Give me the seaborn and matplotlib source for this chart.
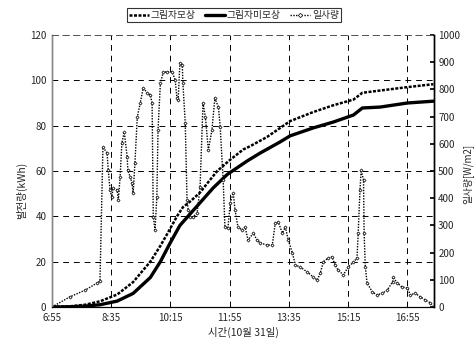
import matplotlib
matplotlib.use("Agg")
import matplotlib.pyplot as plt
import seaborn as sns
import pandas as pd
from matplotlib.lines import Line2D

# ---- data (time in minutes since midnight) ----
irr_time = [415, 445, 471, 491, 496, 501, 508, 510, 513, 516, 518, 525, 527, 530, 533, 537,
            542, 543, 547, 550, 552, 555, 559, 564, 569, 576, 581, 584, 586, 589, 592, 594,
            598, 603, 609, 618, 623, 626, 628, 631, 635, 636, 640, 643, 645, 648, 653, 660,
            665, 670, 674, 679, 685, 690, 696, 699, 704, 707, 712, 716, 721, 724, 729, 736,
            741, 746, 755, 761, 767, 778, 787, 792, 797, 804, 809, 814, 821, 826, 834, 846,
            856, 863, 868, 873, 881, 888, 893, 898, 907, 915, 924, 930, 932, 935, 937, 941,
            942, 944, 947, 956, 964, 973, 981, 990, 991, 998, 1006, 1015, 1020, 1028, 1037,
            1045, 1054, 1059]
irr_value = [0, 37, 62, 88, 95, 588, 566, 503, 430, 404, 437, 430, 393, 478, 603, 643,
             551, 503, 478, 456, 419, 529, 698, 750, 805, 787, 779, 750, 331, 283, 404, 650,
             823, 864, 864, 864, 834, 768, 761, 897, 890, 823, 676, 393, 357, 331, 331, 345,
             441, 750, 698, 577, 650, 768, 735, 662, 467, 294, 290, 382, 419, 357, 294, 283,
             294, 246, 272, 246, 235, 228, 228, 309, 312, 272, 294, 246, 198, 154, 147, 129,
             110, 99, 125, 165, 180, 184, 154, 136, 118, 147, 165, 180, 272, 430, 503, 467,
             272, 147, 88, 55, 44, 51, 62, 92, 110, 88, 73, 70, 44, 51, 37,
             26, 15, 0]

shade_time = [415, 445, 471, 496, 525, 552, 581, 598, 609, 626, 636, 648, 665, 677, 694,
              716, 738, 750, 778, 817, 856, 890, 924, 939, 969, 1015, 1059]
shade_value = [0, 0.3, 1.0, 2.5, 5.5, 11, 20, 27, 32, 40, 44, 46.5, 50.5, 54.5, 60,
               65, 69.5, 71, 75, 82, 86, 89, 91.5, 94.5, 95.5, 97, 98.3]

noshade_time = [415, 445, 471, 496, 525, 552, 581, 598, 614, 631, 648, 665, 687, 711, 745,
                767, 800, 817, 856, 890, 924, 939, 969, 1015, 1059]
noshade_value = [0, 0.1, 0.4, 1.0, 2.6, 6, 13, 20, 28, 36, 41, 46, 52.5, 58.5, 64.5,
                 68, 72.8, 75.5, 79, 81.6, 84.7, 87.8, 88.2, 90, 90.8]

tick_minutes = [415, 515, 615, 715, 815, 915, 1015]
tick_labels = ["6:55", "8:35", "10:15", "11:55", "13:35", "15:15", "16:55"]

series_names = ["그림자모상", "그림자미모상", "일사량"]

# ---- style ----
sns.set_theme(style="white")
plt.rcParams['font.family'] = ['Noto Sans CJK KR', 'DejaVu Sans']

fig = plt.figure(figsize=(4.76, 3.45), dpi=100)
ax = fig.add_axes([52/476, 1-307/345, (434-52)/476, (307-35)/345])
ax2 = ax.twinx()

df_shade = pd.DataFrame({"t": shade_time, "v": shade_value})
df_noshade = pd.DataFrame({"t": noshade_time, "v": noshade_value})
df_irr = pd.DataFrame({"t": irr_time, "v": irr_value})

sns.lineplot(data=df_shade, x="t", y="v", ax=ax, color="black", lw=1.8,
             linestyle=(0, (1.2, 0.6)), estimator=None, legend=False)
sns.lineplot(data=df_noshade, x="t", y="v", ax=ax, color="black", lw=2.4,
             estimator=None, legend=False)
sns.lineplot(data=df_irr, x="t", y="v", ax=ax2, color="black", lw=1.0,
             linestyle=(0, (1, 1)), marker="D", markersize=1.6, markerfacecolor="white",
             markeredgecolor="black", markeredgewidth=0.5, estimator=None, legend=False)

ax.set_xlim(415, 1060)
ax.set_ylim(0, 120)
ax2.set_ylim(0, 1000)
ax.set_xticks(tick_minutes)
ax.set_xticklabels(tick_labels, fontsize=7)
ax.set_yticks(range(0, 121, 20))
ax.set_yticklabels([str(v) for v in range(0, 121, 20)], fontsize=7)
ax2.set_yticks(range(0, 1001, 100))
ax2.set_yticklabels([str(v) for v in range(0, 1001, 100)], fontsize=7)

ax.grid(True, color="black", linestyle=(0, (6, 5)), lw=0.7)
ax2.grid(False)

ax.tick_params(axis="both", length=0, pad=4)
ax2.tick_params(axis="y", length=3, direction="in", pad=3, color="black")

for a in (ax, ax2):
    a.spines["top"].set_linestyle((0, (6, 5)))
    a.spines["top"].set_color("#555555")
    a.spines["top"].set_linewidth(0.7)
    a.spines["left"].set_color("#888888")
    a.spines["left"].set_linewidth(1.0)
    a.spines["bottom"].set_color("black")
    a.spines["bottom"].set_linewidth(0.8)
    a.spines["right"].set_color("black")
    a.spines["right"].set_linewidth(1.0)

ax.set_xlabel("시간(10월 31일)", fontsize=7.5, labelpad=3)
ax.set_ylabel("발전량(kWh)", fontsize=7.5)
ax.yaxis.set_label_coords(-0.065, 0.43)
ax2.set_ylabel("일사량[W/m2]", fontsize=7, rotation=90)
ax2.yaxis.set_label_coords(1.075, 0.49)

handles = [
    Line2D([], [], color="black", lw=1.8, linestyle=(0, (1.2, 0.6))),
    Line2D([], [], color="black", lw=2.4),
    Line2D([], [], color="black", lw=1.0, linestyle=(0, (1, 1)), marker="D",
           markersize=2.2, markerfacecolor="white", markeredgecolor="black",
           markeredgewidth=0.5),
]
leg = fig.legend(handles, series_names, loc="center", bbox_to_anchor=(234/476, 1-15/345),
                 ncol=3, fontsize=7, frameon=True, fancybox=False, handlelength=2.0,
                 handletextpad=0.2, columnspacing=1.0, borderpad=0.25)
leg.get_frame().set_edgecolor("black")
leg.get_frame().set_linewidth(0.8)

fig.savefig("out.png", dpi=100)
